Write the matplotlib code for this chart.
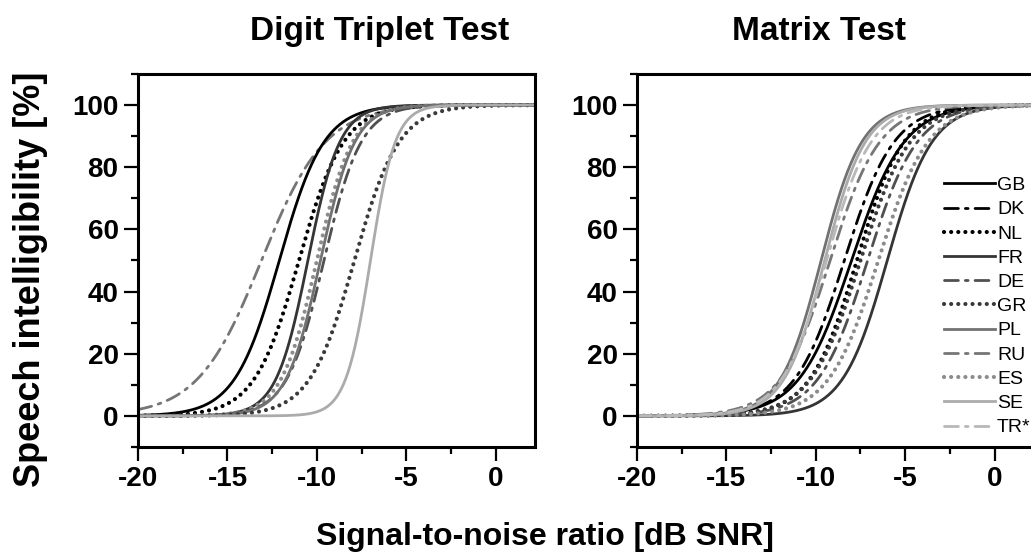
import numpy as np
import matplotlib
matplotlib.use('Agg')
import matplotlib.pyplot as plt
from matplotlib.ticker import MultipleLocator

plt.rcParams['font.family'] = ['Liberation Sans', 'DejaVu Sans']
plt.rcParams['font.weight'] = 'bold'
plt.rcParams['axes.unicode_minus'] = False

# languages, legend order
langs = ['GB', 'DK', 'NL', 'FR', 'DE', 'GR', 'PL', 'RU', 'ES', 'SE', 'TR*']

# Digit Triplet Test: speech reception threshold (dB SNR) and slope (%/dB)
dtt_langs = ['RU', 'GB', 'NL', 'FR', 'ES', 'DE', 'PL', 'GR', 'SE']
dtt_srt   = [-13.1, -12.1, -11.0, -10.5, -10.0, -9.6, -9.8, -7.9, -7.0]
dtt_slope = [14, 20, 20, 28, 25, 24, 26, 20, 36]

# Matrix Test
mat_srt   = [-8.0, -8.4, -7.7, -6.0, -7.1, -7.5, -9.7, -9.2, -6.5, -9.5, -9.4]
mat_slope = [17, 18, 19, 20, 18, 18, 22, 18, 18, 22, 20]

# line styles per language
dashdot = (0, (5, 2.5, 1, 2.5))
dotted = (0, (0.01, 1.7))
styles = {
    'GB':  ('#000000', '-'),
    'DK':  ('#000000', dashdot),
    'NL':  ('#000000', dotted),
    'FR':  ('#353535', '-'),
    'DE':  ('#505050', dashdot),
    'GR':  ('#3a3a3a', dotted),
    'PL':  ('#727272', '-'),
    'RU':  ('#767676', dashdot),
    'ES':  ('#8c8c8c', dotted),
    'SE':  ('#ababab', '-'),
    'TR*': ('#b8b8b8', dashdot),
}


def psychometric(x, srt, slope):
    return 100.0 / (1.0 + np.exp(4.0 * slope / 100.0 * (srt - x)))


def style_axis(ax):
    ax.set_xlim(-20, 2.2)
    ax.set_ylim(-10, 110)
    ax.xaxis.set_major_locator(MultipleLocator(5))
    ax.xaxis.set_minor_locator(MultipleLocator(2.5))
    ax.yaxis.set_minor_locator(MultipleLocator(10))
    ax.set_yticks([0, 20, 40, 60, 80, 100])
    ax.tick_params(which='major', direction='out', length=10, width=1.6,
                   labelsize=20, pad=4)
    ax.tick_params(which='minor', direction='out', length=5, width=1.6)
    for sp in ax.spines.values():
        sp.set_linewidth(2.2)
    for lab in ax.get_xticklabels() + ax.get_yticklabels():
        lab.set_fontweight('bold')


fig = plt.figure(figsize=(10.31, 5.59), dpi=100)
ax1 = fig.add_axes([0.1339, 0.2004, 0.385, 0.6673])
ax2 = fig.add_axes([0.6178, 0.2004, 0.385, 0.6673])

x = np.linspace(-20, 2.2, 500)

for lang, srt, slope in zip(dtt_langs, dtt_srt, dtt_slope):
    col, ls = styles[lang]
    lw = 3.0 if ls == dotted else 2.0
    ax1.plot(x, psychometric(x, srt, slope), color=col, linestyle=ls,
             lw=lw, dash_capstyle='round')

for lang, srt, slope in zip(langs, mat_srt, mat_slope):
    col, ls = styles[lang]
    lw = 3.0 if ls == dotted else 2.0
    ax2.plot(x, psychometric(x, srt, slope), color=col, linestyle=ls,
             lw=lw, dash_capstyle='round', label=lang)

style_axis(ax1)
style_axis(ax2)

leg = ax2.legend(loc='upper left', bbox_to_anchor=(-2.8, 77),
                 bbox_transform=ax2.transData, frameon=False,
                 fontsize=14, handlelength=2.6, handletextpad=0.1,
                 labelspacing=0.34, borderpad=0, borderaxespad=0)
for t in leg.get_texts():
    t.set_fontweight('normal')

fig.text(0.368, 0.943, 'Digit Triplet Test', ha='center', va='center',
         fontsize=24, fontweight='bold')
fig.text(0.794, 0.943, 'Matrix Test', ha='center', va='center',
         fontsize=24, fontweight='bold')
fig.text(0.03, 0.5, 'Speech intelligibility [%]', ha='center', va='center',
         rotation=90, fontsize=26, fontweight='bold')
fig.text(0.529, 0.04, 'Signal-to-noise ratio [dB SNR]', ha='center',
         va='center', fontsize=23, fontweight='bold')

fig.savefig('out.png', dpi=100)
